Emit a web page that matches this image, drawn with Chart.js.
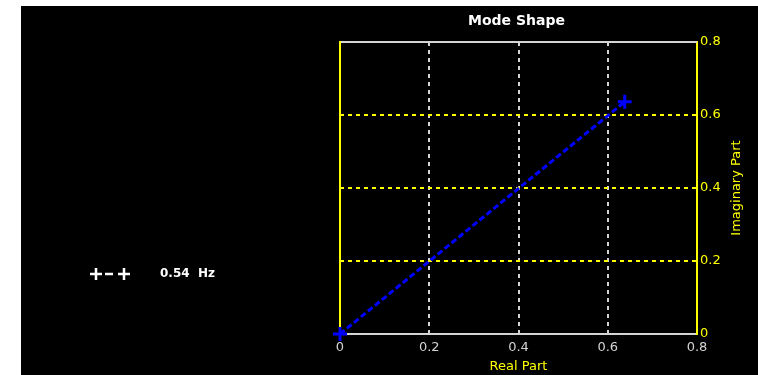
<!DOCTYPE html>
<html>
<head>
<meta charset="utf-8">
<script src="https://cdn.jsdelivr.net/npm/chart.js@4"></script>
<style>
    body { margin: 0; background: #fff; }
    #wrap { position: absolute; left: 21px; top: 6px; width: 737px; height: 369px; background: #000; }
</style>
</head>
<body>
<div id="wrap"><canvas id="modeShapeChart" width="737" height="369"></canvas></div>
<script>
const modeLabel = '0.54  Hz';
const realPart = [0, 0.638];
const imagPart = [0, 0.636];
const xTickLabels = ['0', '0.2', '0.4', '0.6', '0.8'];
const yTickLabels = ['0', '0.2', '0.4', '0.6', '0.8'];

const FONT = 'DejaVu Sans';
const YELLOW = '#ffff00';
const GREY = '#d4d4d4';

// frame lines on top/left, titles and the little legend
const decorations = {
    id: 'decorations',
    beforeDatasetsDraw(chart) {
        const { ctx, chartArea: a } = chart;
        ctx.save();
        ctx.lineWidth = 2;
        ctx.strokeStyle = GREY;
        ctx.beginPath();
        ctx.moveTo(a.left, a.top);
        ctx.lineTo(a.right, a.top);
        ctx.stroke();
        ctx.strokeStyle = YELLOW;
        ctx.beginPath();
        ctx.moveTo(a.left, a.top - 1);
        ctx.lineTo(a.left, a.bottom);
        ctx.stroke();
        ctx.restore();
    },
    afterDraw(chart) {
        const { ctx, chartArea: a } = chart;
        ctx.save();
        ctx.fillStyle = '#fff';
        ctx.font = 'bold 14px ' + FONT;
        ctx.textAlign = 'center';
        ctx.textBaseline = 'middle';
        ctx.fillText('Mode Shape', (a.left + a.right) / 2 - 2, 15);

        // y axis title, reading bottom to top
        ctx.fillStyle = YELLOW;
        ctx.font = '13px ' + FONT;
        ctx.translate(716, 182);
        ctx.rotate(-Math.PI / 2);
        ctx.fillText('Imaginary Part', 0, 0);
        ctx.restore();

        const ds = chart.data.datasets[0];
        ctx.save();
        ctx.strokeStyle = '#fff';
        ctx.lineWidth = 2.5;
        const cy = 268;
        [75, 103].forEach(cx => {
            ctx.beginPath();
            ctx.moveTo(cx - 6, cy); ctx.lineTo(cx + 6, cy);
            ctx.moveTo(cx, cy - 6); ctx.lineTo(cx, cy + 6);
            ctx.stroke();
        });
        ctx.beginPath();
        ctx.moveTo(84, cy); ctx.lineTo(92, cy);
        ctx.stroke();
        ctx.fillStyle = '#fff';
        ctx.font = 'bold 12px ' + FONT;
        ctx.textBaseline = 'middle';
        ctx.fillText(ds.label, 139, cy);
        ctx.restore();
    }
};

const chart = new Chart(document.getElementById('modeShapeChart').getContext('2d'), {
    type: 'scatter',
    data: {
        datasets: [{
            label: modeLabel,
            data: realPart.map((x, i) => ({ x: x, y: imagPart[i] })),
            showLine: true,
            borderColor: '#0000ff',
            backgroundColor: '#0000ff',
            borderWidth: 3,
            borderDash: [6, 3],
            pointStyle: 'cross',
            pointRadius: 7,
            pointBorderWidth: 3,
            clip: false
        }]
    },
    plugins: [decorations],
    options: {
        responsive: false,
        devicePixelRatio: 1,
        animation: false,
        layout: {
            padding: { left: 319, top: 36, right: 21, bottom: 1 }
        },
        plugins: {
            legend: { display: false },
            tooltip: { enabled: false }
        },
        scales: {
            x: {
                type: 'linear',
                min: 0,
                max: 0.8,
                afterFit: (scale) => { scale.height = 40; },
                afterBuildTicks: (scale) => {
                    scale.ticks = xTickLabels.map(t => ({ value: parseFloat(t) }));
                },
                ticks: {
                    color: GREY,
                    font: { family: FONT, size: 13 },
                    padding: 6,
                    maxRotation: 0,
                    callback: (value, index) => xTickLabels[index]
                },
                grid: {
                    drawTicks: false,
                    lineWidth: 2,
                    color: GREY
                },
                border: { color: GREY, width: 2, dash: [4, 4] },
                title: {
                    display: true,
                    text: 'Real Part',
                    color: YELLOW,
                    font: { family: FONT, size: 13 },
                    padding: 0
                }
            },
            y: {
                type: 'linear',
                position: 'right',
                min: 0,
                max: 0.8,
                afterFit: (scale) => { scale.width = 40; },
                afterBuildTicks: (scale) => {
                    scale.ticks = yTickLabels.map(t => ({ value: parseFloat(t) }));
                },
                ticks: {
                    color: YELLOW,
                    font: { family: FONT, size: 13 },
                    padding: 3,
                    callback: (value, index) => yTickLabels[index]
                },
                grid: {
                    drawTicks: false,
                    lineWidth: 2,
                    color: YELLOW
                },
                border: { color: YELLOW, width: 2, dash: [4, 4] }
            }
        }
    }
});
</script>
</body>
</html>
